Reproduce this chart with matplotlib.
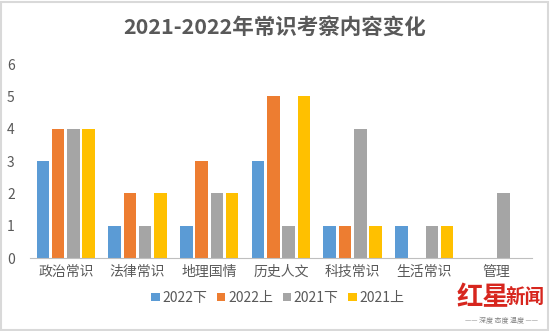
import numpy as np
import matplotlib.pyplot as plt
from matplotlib.patches import Rectangle

plt.rcParams['font.family'] = ['Noto Sans CJK SC', 'DejaVu Sans']

categories = ['政治常识', '法律常识', '地理国情', '历史人文', '科技常识', '生活常识', '管理']
series_names = ['2022下', '2022上', '2021下', '2021上']
v_2022_h2 = [3, 1, 1, 3, 1, 1, 0]
v_2022_h1 = [4, 2, 3, 5, 1, 0, 0]
v_2021_h2 = [4, 1, 2, 1, 4, 1, 2]
v_2021_h1 = [4, 2, 2, 5, 1, 1, 0]
yticks = [0, 1, 2, 3, 4, 5, 6]

colors = ['#5B9BD5', '#ED7D31', '#A5A5A5', '#FFC000']
text_color = '#595959'

fig = plt.figure(figsize=(5.5, 3.31), dpi=100)
ax = fig.add_axes([0.0545, 0.2205, 0.9125, 0.5861])

x = np.arange(len(categories))
step = 0.213
width = 0.175
for i, (name, vals) in enumerate(zip(series_names, [v_2022_h2, v_2022_h1, v_2021_h2, v_2021_h1])):
    ax.bar(x + (i - 1.5) * step, vals, width, color=colors[i], label=name, zorder=2)

ax.set_xlim(-0.5, len(categories) - 0.5)
ax.set_ylim(0, 6)
ax.set_yticks(yticks)
ax.set_xticks(x)
ax.set_xticklabels(categories, fontsize=10, color=text_color)
ax.tick_params(axis='y', length=0, pad=11, labelsize=10, labelcolor=text_color)
ax.tick_params(axis='x', length=0, pad=5)
for s in ['top', 'right', 'left']:
    ax.spines[s].set_visible(False)
ax.spines['bottom'].set_color('#BFBFBF')
ax.spines['bottom'].set_linewidth(0.8)

fig.text(0.5, 0.918, '2021-2022年常识考察内容变化', ha='center', va='center',
         fontsize=15.5, fontweight='bold', color=text_color)

fig.legend(loc='center', bbox_to_anchor=(0.505, 0.1), ncol=4, frameon=False,
           fontsize=10, handlelength=0.6, handleheight=0.6, handletextpad=0.2,
           columnspacing=0.7, labelcolor=text_color)

# red star news mark in the lower right corner
fig.text(0.878, 0.1, '红星', ha='center', va='center', fontsize=19,
         fontweight='bold', color='#D7261E')
fig.text(0.955, 0.1, '新闻', ha='center', va='center', fontsize=14,
         fontweight='bold', color='#D7261E')
fig.text(0.912, 0.03, '—— 深度 态度 温度 ——', ha='center', va='center',
         fontsize=5, color='#808080')

fig.patches.append(Rectangle((0.002, 0.003), 0.994, 0.99, transform=fig.transFigure,
                             fill=False, edgecolor='#D9D9D9', linewidth=1.5))

fig.savefig('out.png', dpi=100)
